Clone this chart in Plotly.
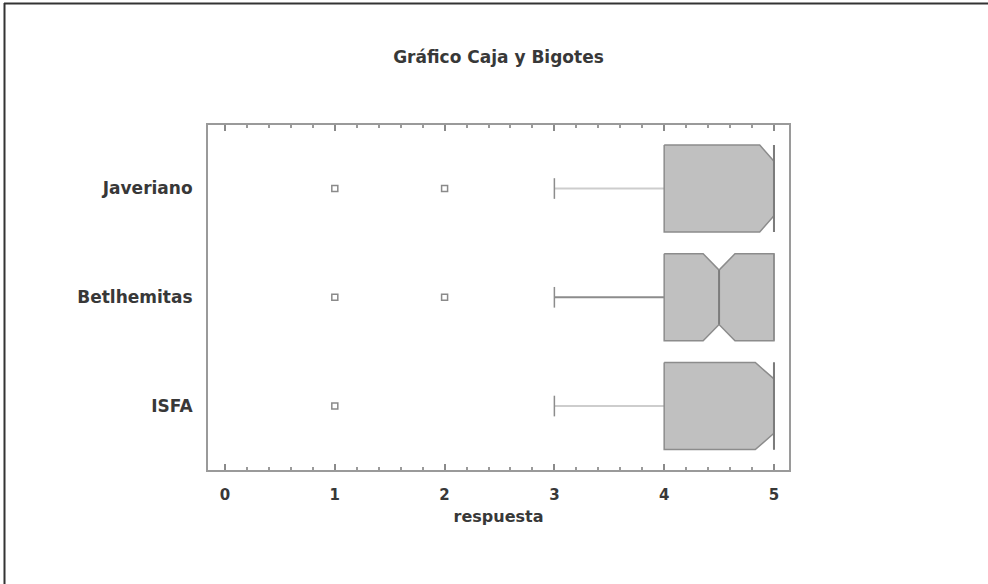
import plotly.graph_objects as go

# ---- data (bottom to top) ----
categories = ["ISFA", "Betlhemitas", "Javeriano"]
q1_vals = [4.0, 4.0, 4.0]
median_vals = [5.0, 4.5, 5.0]
q3_vals = [5.0, 5.0, 5.0]
lower_whisker = [3.0, 3.0, 3.0]
upper_whisker = [5.0, 5.0, 5.0]
notch_span = [0.17, 0.145, 0.13]
outliers = [[1.0], [1.0, 2.0], [1.0, 2.0]]

x_tick_values = [0, 1, 2, 3, 4, 5]
title_text = "Gráfico Caja y Bigotes"
x_title = "respuesta"

# ---- styles ----
BOX_HALF = 0.40
NOTCH_DEPTH = 0.15
CAP_HALF = 0.095
FILL = "#c0c0c0"
EDGE = "#8c8c8c"
MED = "#7c7c7c"
whisker_colors = ["#cdcdcd", "#8c8c8c", "#cdcdcd"]
FONT = "DejaVu Sans"
TXT = "#383838"

fig = go.Figure()


def clip_edge(pts, lo, hi):
    """Clip a polyline (list of (x, y)) to lo <= x <= hi."""
    out = []
    for i in range(len(pts)):
        x, y = pts[i]
        if lo <= x <= hi:
            if not out or out[-1] != (x, y):
                out.append((x, y))
        if i + 1 < len(pts):
            x2, y2 = pts[i + 1]
            for b in (lo, hi):
                if (x - b) * (x2 - b) < 0:
                    t = (b - x) / (x2 - x)
                    p = (b, y + t * (y2 - y))
                    if not out or out[-1] != p:
                        out.append(p)
    return out


for i, cat in enumerate(categories):
    pos = i
    q1, m, q3 = q1_vals[i], median_vals[i], q3_vals[i]
    n = notch_span[i]
    top, bot = pos + BOX_HALF, pos - BOX_HALF

    # whisker
    fig.add_trace(go.Scatter(
        x=[lower_whisker[i], q1], y=[pos, pos], mode="lines",
        line=dict(color=whisker_colors[i], width=2), hoverinfo="skip", showlegend=False))
    if upper_whisker[i] > q3:
        fig.add_trace(go.Scatter(
            x=[q3, upper_whisker[i]], y=[pos, pos], mode="lines",
            line=dict(color=whisker_colors[i], width=2), hoverinfo="skip", showlegend=False))
    # caps
    for w in (lower_whisker[i], upper_whisker[i]):
        if w < q1 or w > q3:
            fig.add_trace(go.Scatter(
                x=[w, w], y=[pos - CAP_HALF, pos + CAP_HALF], mode="lines",
                line=dict(color=EDGE, width=1.5), hoverinfo="skip", showlegend=False))

    # notched box outline
    top_edge = [(q1, top), (m - n, top), (m, top - NOTCH_DEPTH), (m + n, top), (q3, top)]
    bot_edge = [(q1, bot), (m - n, bot), (m, bot + NOTCH_DEPTH), (m + n, bot), (q3, bot)]
    top_edge = clip_edge(sorted(top_edge, key=lambda p: p[0]), q1, q3)
    bot_edge = clip_edge(sorted(bot_edge, key=lambda p: p[0]), q1, q3)
    poly = top_edge + bot_edge[::-1] + [top_edge[0]]
    fig.add_trace(go.Scatter(
        x=[p[0] for p in poly], y=[p[1] for p in poly], mode="lines",
        fill="toself", fillcolor=FILL, line=dict(color=EDGE, width=1.5),
        hoverinfo="skip", showlegend=False))
    # q3 edge full height
    fig.add_trace(go.Scatter(
        x=[q3, q3], y=[bot, top], mode="lines",
        line=dict(color=EDGE, width=1.5), hoverinfo="skip", showlegend=False))
    # median line
    fig.add_trace(go.Scatter(
        x=[m, m], y=[bot + NOTCH_DEPTH, top - NOTCH_DEPTH] if m < q3 else [bot, top],
        mode="lines", line=dict(color=MED, width=2), hoverinfo="skip", showlegend=False))

    # outliers
    fig.add_trace(go.Scatter(
        x=outliers[i], y=[pos] * len(outliers[i]), mode="markers",
        marker=dict(symbol="square-open", size=6, color="#8a8a8a", line=dict(width=1.5)),
        hoverinfo="skip", showlegend=False))

# figure geometry for border lines
L, R, T, B = 208, 199, 125, 114
W = 988 - L - R
H = 584 - T - B


def px_x(px):
    return (px - L) / W


def px_y(py):
    return (584 - B - py) / H


fig.update_layout(
    width=988, height=584,
    margin=dict(l=L, r=R, t=T, b=B),
    paper_bgcolor="white", plot_bgcolor="white",
    title=dict(text=title_text, x=0.5, xref="paper", y=1 - 57 / 584, yref="container",
               yanchor="middle", xanchor="center",
               font=dict(family=FONT, size=17, color=TXT, weight="bold")),
    xaxis=dict(
        range=[-0.155, 5.137], tickmode="array", tickvals=x_tick_values,
        ticktext=[str(v) for v in x_tick_values],
        ticks="inside", ticklen=6, tickwidth=1.5, tickcolor="#8a8a8a",
        minor=dict(dtick=0.2, tick0=0, ticks="inside", ticklen=3, tickwidth=1.5,
                   tickcolor="#9a9a9a", showgrid=False),
        showline=True, linecolor="#9a9a9a", linewidth=2, mirror="ticks",
        showgrid=False, zeroline=False,
        tickfont=dict(family=FONT, size=15, color=TXT, weight="bold"),
        ticklabelstandoff=10,
        title=dict(text=x_title, standoff=8,
                   font=dict(family=FONT, size=16, color=TXT, weight="bold")),
    ),
    yaxis=dict(
        range=[-0.588, 2.584], tickmode="array",
        tickvals=list(range(len(categories))), ticktext=categories,
        ticks="", showline=True, linecolor="#9a9a9a", linewidth=2, mirror=True,
        showgrid=False, zeroline=False, ticklabelstandoff=10,
        tickfont=dict(family=FONT, size=17, color=TXT, weight="bold"),
    ),
    shapes=[
        dict(type="line", xref="paper", yref="paper",
             x0=px_x(4), x1=px_x(988), y0=px_y(3.5), y1=px_y(3.5),
             line=dict(color="#333333", width=2)),
        dict(type="line", xref="paper", yref="paper",
             x0=px_x(4.5), x1=px_x(4.5), y0=px_y(3), y1=px_y(584),
             line=dict(color="#333333", width=2)),
    ],
)

fig.write_html("out.html",
               config={"displayModeBar": False},
               post_script="document.body.style.margin='0';document.body.style.padding='0';")
